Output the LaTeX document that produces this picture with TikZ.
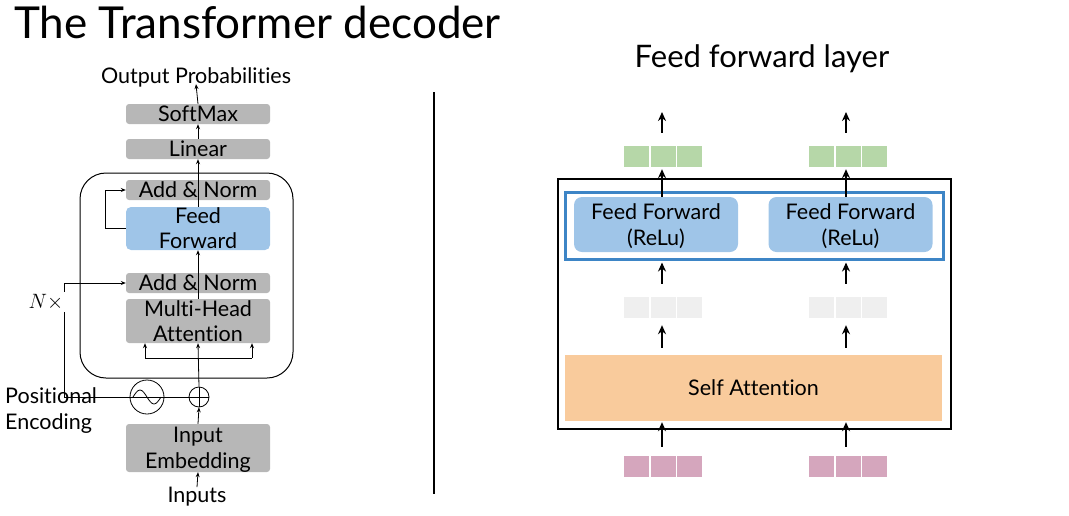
\documentclass[tikz,border=0pt]{standalone}
\usepackage{fontspec}
\setmainfont{Lato}[Ligatures=NoCommon]
\usetikzlibrary{arrows.meta,calc}
\definecolor{boxgray}{HTML}{B7B7B7}
\definecolor{ffblue}{HTML}{9FC5E8}
\definecolor{frameblue}{HTML}{3D85C6}
\definecolor{cellgreen}{HTML}{B6D7A8}
\definecolor{cellgray}{HTML}{EFEFEF}
\definecolor{cellpink}{HTML}{D5A6BD}
\definecolor{saorange}{HTML}{F9CB9C}
\begin{document}
\begin{tikzpicture}[x=1pt,y=-1pt,
  lbl/.style={font=\fontsize{21.5}{26}\selectfont, inner sep=0pt, align=center, text depth=0pt},
  graybox/.style={fill=boxgray, rounded corners=3pt, minimum width=144pt, inner sep=0pt, align=center, text depth=0pt, font=\fontsize{21.5}{25}\selectfont},
  bluebox/.style={graybox, fill=ffblue, rounded corners=5pt},
  thinarrow/.style={-{Stealth[length=5pt,width=4pt]}, line width=0.8pt},
  thinline/.style={line width=0.8pt},
  bigarrow/.style={-{Stealth[length=9pt,width=8pt]}, line width=2pt},
  rffbox/.style={fill=ffblue, rounded corners=8pt, minimum width=164pt, minimum height=55pt, inner sep=0pt, align=center, text depth=0pt, font=\fontsize{21.5}{26}\selectfont},
  cell/.style={minimum width=26pt, minimum height=22pt, inner sep=0pt, draw=white, line width=0.4pt}
]
\useasboundingbox (0,0) rectangle (1069,515);

% title
\node[anchor=west, inner sep=0pt, font=\fontsize{44}{44}\selectfont] (title) at (14,22) {The Transformer decoder};

% ---------- left diagram ----------
\draw[line width=1pt, rounded corners=26pt] (80,173) rectangle (293,378);

\node[lbl] (outp) at (196,76) {Output Probabilities};
\node[graybox, minimum height=20pt] (softmax) at (198,114) {SoftMax};
\node[graybox, minimum height=20pt] (linear) at (198,149) {Linear};
\node[graybox, minimum height=20pt] (an2) at (198,190) {Add \& Norm};
\node[bluebox, minimum height=43pt] (ff) at (198,228.5) {Feed\\Forward};
\node[graybox, minimum height=20pt] (an1) at (198,283) {Add \& Norm};
\node[graybox, minimum height=44pt] (mha) at (198,321) {Multi-Head\\Attention};
\node[graybox, minimum height=48pt, font=\fontsize{21.5}{26}\selectfont] (emb) at (198,448) {Input\\Embedding};
\node[lbl] (inputs) at (197,495) {Inputs};
\node[lbl, anchor=west, align=left] (pos) at (5,409) {Positional\\Encoding};

\node[draw, circle, minimum size=34pt, inner sep=0pt, line width=0.8pt] (sine) at (147,397) {};
\draw[line width=0.8pt] ($(sine.center)+(-14,0)$) sin ($(sine.center)+(-7,-7)$) cos (sine.center) sin ($(sine.center)+(7,7)$) cos ($(sine.center)+(14,0)$);
\node[draw, circle, minimum size=20pt, inner sep=0pt, line width=0.8pt] (plus) at (199,397) {};
\draw[thinline] (plus.north) -- (plus.south) (plus.west) -- (plus.east);

\coordinate (nlow) at (64,397);
\coordinate (nup) at (64,283);
\draw[thinline] (plus.center) -- (nlow) -- (nup);
\draw[thinarrow] (nup) -- (an1.west);
\node[fill=white, inner sep=2pt, font=\fontsize{22}{22}\selectfont] (nx) at (46,302) {$N\times$};

\draw[thinarrow] (inputs.north) -- (emb.south);
\draw[thinarrow] (emb.north) -- (plus.south);
\draw[thinarrow] (plus.north) -- (mha.south);
\coordinate (brl) at (145,358);
\coordinate (brr) at (252,358);
\draw[thinline] (brl) -- (brr);
\draw[thinarrow] (brl) -- (brl |- mha.south);
\draw[thinarrow] (brr) -- (brr |- mha.south);
\draw[thinarrow] (mha.north) -- (ff.south);
\draw[thinarrow] (ff.north) -- (linear.south);
\draw[thinarrow] (linear.north) -- (softmax.south);
\draw[thinarrow] (softmax.north) -- (outp.south);
\coordinate (resa) at (105,228.5);
\coordinate (resb) at (105,190);
\draw[thinline] (ff.west) -- (resa) -- (resb);
\draw[thinarrow] (resb) -- (an2.west);

% divider
\draw[line width=2pt] (434,92) -- (434,494);

% ---------- right diagram ----------
\node[lbl, font=\fontsize{31}{31}\selectfont] (fftitle) at (762,56) {Feed forward layer};

\draw[line width=2pt] (558,179) rectangle (951,429);
\node[draw=frameblue, line width=3pt, minimum width=378pt, minimum height=67pt, inner sep=0pt] (frame) at (754,225.5) {};
\node[rffbox] (ffa) at (656,224.5) {Feed Forward\\(ReLu)};
\node[rffbox] (ffb) at (850.5,224.5) {Feed Forward\\(ReLu)};
\node[fill=saorange, minimum width=377pt, minimum height=66pt, inner sep=0pt, text depth=0pt, font=\fontsize{21.5}{21.5}\selectfont] (sa) at (753.5,388) {Self Attention};

% cell vectors
\foreach \nm/\cx/\cy/\col in {ga/663/156/cellgreen, gb/848/156/cellgreen, ma/663/307/cellgray, mb/848/307/cellgray, pa/663/466/cellpink, pb/848/466/cellpink}{
  \node[cell, fill=\col] (\nm2) at (\cx,\cy) {};
  \node[cell, fill=\col, anchor=east] (\nm1) at (\nm2.west) {};
  \node[cell, fill=\col, anchor=west] (\nm3) at (\nm2.east) {};
}

\coordinate (topa) at (662,112);
\coordinate (topb) at (846,112);
\draw[bigarrow] (ga2.north -| topa) ++(0,-12) -- (topa);
\draw[bigarrow] (gb2.north -| topb) ++(0,-12) -- (topb);
\draw[bigarrow] (ffa.north -| topa) -- ($(ga2.south -| topa)+(0,2)$);
\draw[bigarrow] (ffb.north -| topb) -- ($(gb2.south -| topb)+(0,2)$);
\draw[bigarrow] ($(ma2.north -| topa)+(0,-12)$) -- ($(frame.south -| topa)+(0,2)$);
\draw[bigarrow] ($(mb2.north -| topb)+(0,-12)$) -- ($(frame.south -| topb)+(0,2)$);
\draw[bigarrow] ($(sa.north -| topa)+(0,-7)$) -- ($(ma2.south -| topa)+(0,7)$);
\draw[bigarrow] ($(sa.north -| topb)+(0,-7)$) -- ($(mb2.south -| topb)+(0,7)$);
\draw[bigarrow] ($(pa2.north -| topa)+(0,-8)$) -- ($(sa.south -| topa)+(0,1)$);
\draw[bigarrow] ($(pb2.north -| topb)+(0,-8)$) -- ($(sa.south -| topb)+(0,1)$);
\end{tikzpicture}
\end{document}
